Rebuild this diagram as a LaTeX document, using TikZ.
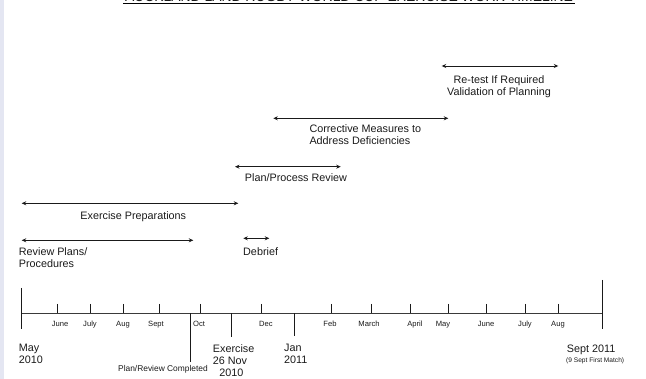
\documentclass[tikz,border=0pt]{standalone}
\usepackage{fontspec}
\setmainfont{Liberation Sans}
\usetikzlibrary{arrows.meta}
\definecolor{ink}{HTML}{1A1A1A}
\definecolor{rule}{HTML}{3A3A3A}
\definecolor{edge}{HTML}{E4E6F2}

\begin{document}
\begin{tikzpicture}[
  x=1pt, y=-1pt,
  every node/.style={font=\fontsize{10.8}{12}\selectfont, text=ink, inner sep=0pt},
  span/.style={{Stealth[length=4.5pt,width=4pt]}-{Stealth[length=4.5pt,width=4pt]}, line width=0.9pt, draw=ink},
  axisline/.style={line width=0.9pt, draw=rule},
  tick/.style={line width=0.8pt, draw=ink},
  mon/.style={font=\fontsize{7.6}{9}\selectfont, anchor=base},
  lbl/.style={align=left, anchor=north west},
  clbl/.style={align=center, anchor=north},
  note/.style={font=\fontsize{8.4}{10}\selectfont},
  ttl/.style={font=\fontsize{13.9}{16}\selectfont, anchor=base}
]
\useasboundingbox (0,0) rectangle (646,379);
\fill[edge] (0,0) rectangle (4,379);

% --- title (cut off at the top)
\node[ttl] (title) at (349,1.8) {AUCKLAND LAND RUGBY WORLD CUP EXERCISE WORK TIMELINE};
\coordinate (ul0) at (123,3.4);
\coordinate (ul1) at (575,3.4);
\draw[line width=1.3pt] (ul0) -- (ul1);

% --- activity spans
\coordinate (rt0) at (441.7,66);    \coordinate (rt1) at (558.3,66);
\coordinate (cm0) at (273.3,118.3); \coordinate (cm1) at (448.3,118.3);
\coordinate (pp0) at (235,166.7);   \coordinate (pp1) at (340.7,166.7);
\coordinate (ep0) at (21.7,203.3);  \coordinate (ep1) at (238.3,203.3);
\coordinate (rp0) at (21.7,240.3);  \coordinate (rp1) at (193.3,240.3);
\coordinate (db0) at (243.3,238.3); \coordinate (db1) at (269.3,238.3);
\draw[span] (rt0) -- (rt1);
\draw[span] (cm0) -- (cm1);
\draw[span] (pp0) -- (pp1);
\draw[span] (ep0) -- (ep1);
\draw[span] (rp0) -- (rp1);
\draw[span] (db0) -- (db1);
\node[clbl] (retest) at (499,75) {Re-test If Required\\Validation of Planning};
\node[lbl]  (corr)   at (309.3,124.3) {Corrective Measures to\\Address Deficiencies};
\node[clbl] (ppr)    at (296,173.3) {Plan/Process Review};
\node[clbl] (prep)   at (133.3,211) {Exercise Preparations};
\node[lbl]  (revp)   at (18.7,247.8) {Review Plans/\\Procedures};
\node[lbl]  (debr)   at (243,247.8) {Debrief};

% --- time axis
\coordinate (t0) at (21.3,313.3);
\coordinate (t1) at (602,313.3);
\draw[axisline] (t0) -- (t1);
\coordinate (s0) at (21.3,288); \coordinate (s1) at (21.3,329);
\coordinate (e0) at (602,280);  \coordinate (e1) at (602,329);
\draw[tick] (s0) -- (s1);
\draw[tick] (e0) -- (e1);
\foreach [count=\i] \x/\lx/\m in {57.7/60/June, 90.3/90/July, 123.7/123/Aug,
    159.7/156/Sept, 200.3/199/Oct, 261.3/266/Dec, 331/330/Feb, 371.7/369/March,
    410.3/415/April, 448.3/443/May, 486.7/486/June, 525/525/July, 558.3/558/Aug}{
  \coordinate (up\i) at (\x,304);
  \coordinate (dn\i) at (\x,313.3);
  \draw[tick] (up\i) -- (dn\i);
  \node[mon] (mn\i) at (\lx,327) {\m};
}
% long markers below the axis
\coordinate (pr0) at (190,313.3);   \coordinate (pr1) at (190,361.7);
\coordinate (ex0) at (231.3,313.3); \coordinate (ex1) at (231.3,336.7);
\coordinate (ja0) at (294.7,313.3); \coordinate (ja1) at (294.7,336);
\draw[tick] (pr0) -- (pr1);
\draw[tick] (ex0) -- (ex1);
\draw[tick] (ja0) -- (ja1);

\node[lbl] (may)  at (18.7,344.2) {May\\2010};
\node[lbl] (exer) at (212.7,344.2) {Exercise\\26 Nov\\\hspace{6.5pt}2010};
\node[lbl] (jan)  at (284,344.2) {Jan\\2011};
\node[lbl] (sep)  at (566.7,345) {Sept 2011};
\node[note, anchor=base west, font=\fontsize{6.6}{8}\selectfont] (match) at (566,362.5) {(9 Sept First Match)};
\node[note, anchor=base east] (prdone) at (208,372) {Plan/Review Completed};
\end{tikzpicture}
\end{document}
